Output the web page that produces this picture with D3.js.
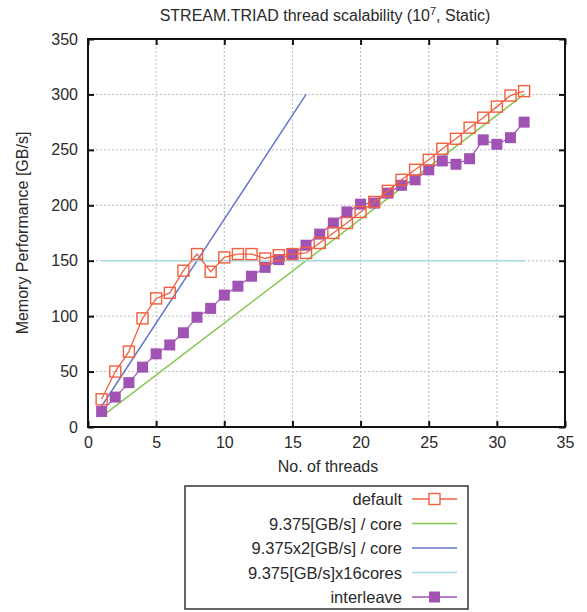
<!DOCTYPE html>
<meta charset="utf-8">
<style>
body { margin: 0; background: #fff; }
text { font-family: "Liberation Sans", Arial, sans-serif; fill: #2a2a2a; }
.grid line { stroke: #bbb; stroke-dasharray: 2,2; stroke-width: 1; }
.frame { fill: none; stroke: #111; stroke-width: 2; }
</style>
<body>
<script src="https://d3js.org/d3.v7.min.js"></script>
<script>

// threads 1..32
var threads = d3.range(1, 33);

var defaultVals = [25, 50, 68, 98, 116, 121, 141, 156, 140, 153, 156, 156, 152, 155, 156, 157,
                   166, 175, 184, 194, 203, 213, 223, 232, 241, 251, 260, 270, 279, 289, 299, 303];
var interleaveVals = [14, 27, 40, 54, 66, 74, 85, 99, 107, 119, 127, 136, 144, 151, 156, 164,
                      174, 184, 194, 201, 202, 211, 218, 223, 232, 240, 237, 242, 259, 255, 261, 275];

var perCore = [[1, 9.375], [32, 300]];
var perCore2 = [[1, 18.75], [16, 300]];
var cap16 = [[1, 150], [32, 150]];

var xTicks = [0, 5, 10, 15, 20, 25, 30, 35];
var yTicks = [0, 50, 100, 150, 200, 250, 300, 350];

var legendLabels = ["default", "9.375[GB/s] / core", "9.375x2[GB/s] / core", "9.375[GB/s]x16cores", "interleave"];

var cRed = "#f2603e", cGreen = "#86c64e", cBlue = "#6676c8", cCyan = "#a6dbe4", cPurple = "#a153b3";

var margin = {top: 39, left: 88},
    width = 477, height = 388;

var x = d3.scaleLinear().domain([0, 35]).range([0, width]);
var y = d3.scaleLinear().domain([0, 350]).range([height, 0]);

var svg = d3.select("body").append("svg")
    .attr("width", 587)
    .attr("height", 612);

svg.append("text")
    .attr("x", 325).attr("y", 21)
    .attr("text-anchor", "middle")
    .style("font-size", "16px")
    .html("STREAM.TRIAD thread scalability (10<tspan dy='-6' font-size='11px'>7</tspan><tspan dy='6'>, Static)</tspan>");

var g = svg.append("g")
    .attr("transform", "translate(" + margin.left + "," + margin.top + ")");

// grid
g.append("g").attr("class", "grid")
  .selectAll("line").data(xTicks.slice(1, -1)).enter().append("line")
    .attr("x1", x).attr("x2", x).attr("y1", 0).attr("y2", height);
g.append("g").attr("class", "grid")
  .selectAll("line").data(yTicks.slice(1, -1)).enter().append("line")
    .attr("y1", y).attr("y2", y).attr("x1", 0).attr("x2", width);

// axes, ticks inward, mirrored
var xb = g.append("g").attr("transform", "translate(0," + height + ")")
    .call(d3.axisBottom(x).tickValues(xTicks).tickSizeInner(-6).tickSizeOuter(0).tickPadding(10));
var xt = g.append("g")
    .call(d3.axisTop(x).tickValues(xTicks).tickSizeInner(-6).tickSizeOuter(0).tickFormat(""));
var yl = g.append("g")
    .call(d3.axisLeft(y).tickValues(yTicks).tickSizeInner(-6).tickSizeOuter(0).tickPadding(10));
var yr = g.append("g").attr("transform", "translate(" + width + ",0)")
    .call(d3.axisRight(y).tickValues(yTicks).tickSizeInner(-6).tickSizeOuter(0).tickFormat(""));
[xb, xt, yl, yr].forEach(function(a) {
  a.select(".domain").remove();
  a.selectAll(".tick line").attr("stroke", "#111").attr("stroke-width", 2);
  a.selectAll("text").style("font-size", "16px").attr("fill", "#2a2a2a");
});

var line = d3.line().x(function(d) { return x(d[0]); }).y(function(d) { return y(d[1]); });

g.append("path").datum(perCore).attr("d", line)
    .attr("fill", "none").attr("stroke", cGreen).attr("stroke-width", 1.5);
g.append("path").datum(perCore2).attr("d", line)
    .attr("fill", "none").attr("stroke", cBlue).attr("stroke-width", 1.5);
g.append("path").datum(cap16).attr("d", line)
    .attr("fill", "none").attr("stroke", cCyan).attr("stroke-width", 1.5);

var ilData = threads.map(function(t, i) { return [t, interleaveVals[i]]; });
var dfData = threads.map(function(t, i) { return [t, defaultVals[i]]; });

g.append("path").datum(ilData).attr("d", line)
    .attr("fill", "none").attr("stroke", cPurple).attr("stroke-width", 1.2);
g.selectAll(".il").data(ilData).enter().append("rect")
    .attr("x", function(d) { return x(d[0]) - 5.5; })
    .attr("y", function(d) { return y(d[1]) - 5.5; })
    .attr("width", 11).attr("height", 11)
    .attr("fill", cPurple);

g.append("path").datum(dfData).attr("d", line)
    .attr("fill", "none").attr("stroke", cRed).attr("stroke-width", 1.3);
g.selectAll(".df").data(dfData).enter().append("rect")
    .attr("x", function(d) { return x(d[0]) - 5.5; })
    .attr("y", function(d) { return y(d[1]) - 5.5; })
    .attr("width", 11).attr("height", 11)
    .attr("fill", "none").attr("stroke", cRed).attr("stroke-width", 1.4);

g.append("rect").attr("class", "frame").attr("width", width).attr("height", height);

// axis titles
svg.append("text")
    .attr("transform", "translate(28," + (margin.top + height / 2) + ") rotate(-90)")
    .attr("text-anchor", "middle")
    .style("font-size", "16px")
    .text("Memory Performance [GB/s]");
svg.append("text")
    .attr("x", 328).attr("y", 472)
    .attr("text-anchor", "middle")
    .style("font-size", "16px")
    .text("No. of threads");

// legend
var leg = svg.append("g");
leg.append("rect")
    .attr("x", 185).attr("y", 486).attr("width", 283).attr("height", 123)
    .attr("fill", "#fff").attr("stroke", "#333").attr("stroke-width", 1.5);
var legColors = [cRed, cGreen, cBlue, cCyan, cPurple];
legendLabels.forEach(function(lab, i) {
  var ly = 499 + i * 24.5;
  leg.append("text").attr("x", 402).attr("y", ly + 6)
      .attr("text-anchor", "end").style("font-size", "16.5px").text(lab);
  leg.append("line").attr("x1", 412).attr("x2", 457).attr("y1", ly).attr("y2", ly)
      .attr("stroke", legColors[i]).attr("stroke-width", 1.5);
  if (i === 0) {
    leg.append("rect").attr("x", 429).attr("y", ly - 5.5).attr("width", 11).attr("height", 11)
        .attr("fill", "#fff").attr("stroke", cRed).attr("stroke-width", 1.4);
  }
  if (i === 4) {
    leg.append("rect").attr("x", 429).attr("y", ly - 5.5).attr("width", 11).attr("height", 11)
        .attr("fill", cPurple);
  }
});

</script>
</body>
